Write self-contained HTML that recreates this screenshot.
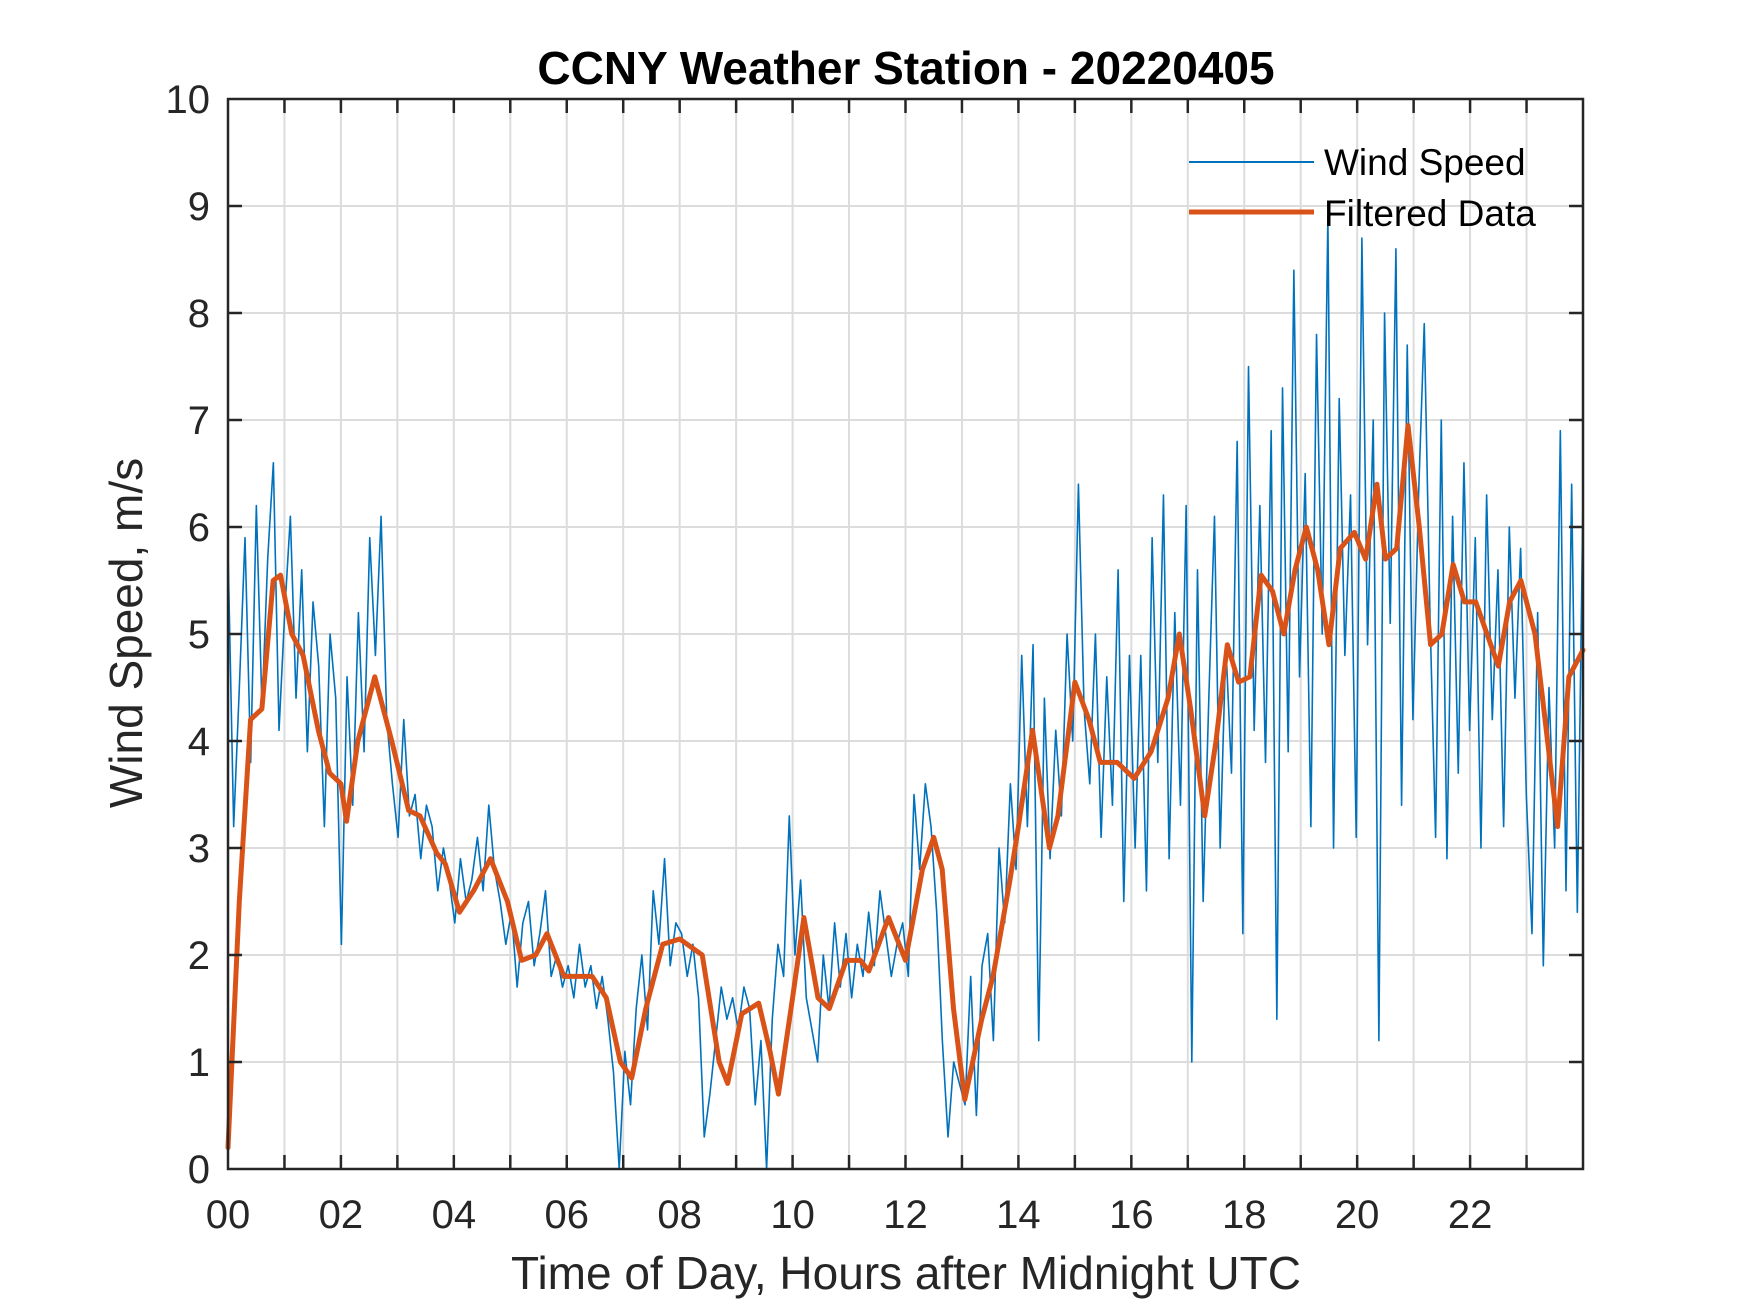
<!DOCTYPE html>
<html><head><meta charset="utf-8"><style>
body{margin:0;background:#fff}
svg{display:block;font-family:"Liberation Sans",Arial,sans-serif}
</style></head><body>
<svg id="chart" width="1750" height="1313" viewBox="0 0 1750 1313" xmlns="http://www.w3.org/2000/svg">
<rect width="1750" height="1313" fill="#fff"/>
<g id="grid"></g>
<g id="series"></g>
<g id="axes"></g>
<text x="906" y="84" text-anchor="middle" font-size="46" font-weight="bold" fill="#000">CCNY Weather Station - 20220405</text>
<text x="906" y="1289" text-anchor="middle" font-size="46" fill="#262626">Time of Day, Hours after Midnight UTC</text>
<text transform="translate(142,633) rotate(-90)" text-anchor="middle" font-size="46" fill="#262626">Wind Speed, m/s</text>
<g>
<line x1="1189" y1="162" x2="1314" y2="162" stroke="#0072BD" stroke-width="2"/>
<text x="1324" y="175" font-size="37" fill="#000">Wind Speed</text>
<line x1="1189" y1="212" x2="1314" y2="212" stroke="#D95319" stroke-width="5"/>
<text x="1324" y="226" font-size="37" fill="#000">Filtered Data</text>
</g>
</svg>
<script>
const xTickLabels = ["00","02","04","06","08","10","12","14","16","18","20","22"];
const yTickLabels = ["0","1","2","3","4","5","6","7","8","9","10"];
const rawStep = 0.1;
const rawValues = [
5.8,3.2,4.5,5.9,3.8,6.2,4.3,5.7,6.6,4.1,
5.2,6.1,4.4,5.6,3.9,5.3,4.7,3.2,5.0,4.4,
2.1,4.6,3.4,5.2,3.9,5.9,4.8,6.1,4.2,3.6,
3.1,4.2,3.3,3.5,2.9,3.4,3.2,2.6,3.0,2.7,
2.3,2.9,2.5,2.7,3.1,2.6,3.4,2.8,2.5,2.1,
2.4,1.7,2.3,2.5,1.9,2.2,2.6,1.8,2.0,1.7,
1.9,1.6,2.1,1.7,1.9,1.5,1.8,1.4,0.9,0.0,
1.1,0.6,1.5,2.0,1.3,2.6,2.1,2.9,1.9,2.3,
2.2,1.8,2.1,1.6,0.3,0.7,1.2,1.7,1.4,1.6,
1.3,1.7,1.5,0.6,1.2,0.0,1.4,2.1,1.8,3.3,
2.0,2.7,1.6,1.3,1.0,2.0,1.5,2.3,1.7,2.2,
1.6,2.1,1.8,2.4,1.9,2.6,2.2,1.8,2.1,2.3,
1.8,3.5,2.8,3.6,3.2,2.4,1.2,0.3,1.0,0.8,
0.6,1.8,0.5,1.9,2.2,1.2,3.0,2.3,3.6,2.8,
4.8,3.2,4.9,1.2,4.4,2.9,4.1,3.3,5.0,4.0,
6.4,4.3,3.6,5.0,3.1,4.6,3.4,5.6,2.5,4.8,
3.0,4.8,2.6,5.9,3.8,6.3,2.9,5.2,3.4,6.2,
1.0,5.6,2.5,4.4,6.1,3.0,4.9,3.7,6.8,2.2,
7.5,4.1,6.2,3.8,6.9,1.4,7.3,3.9,8.4,4.6,
6.5,3.2,7.8,5.0,8.9,3.0,7.2,4.8,6.3,3.1,
8.7,4.9,7.0,1.2,8.0,5.1,8.6,3.4,7.7,4.2,
6.3,7.9,5.2,3.1,7.0,2.9,6.1,3.7,6.6,4.1,
5.9,3.0,6.3,4.2,5.6,3.2,6.0,4.4,5.8,3.5,
2.2,5.2,1.9,4.5,3.0,6.9,2.6,6.4,2.4,6.3
];
const filtHours = [0,0.2,0.4,0.6,0.8,0.93,1.13,1.33,1.6,1.8,2.0,2.1,2.3,2.6,2.9,3.2,3.4,3.7,3.85,4.1,4.35,4.65,4.95,5.2,5.45,5.65,5.95,6.45,6.7,6.95,7.15,7.4,7.7,8.0,8.4,8.7,8.85,9.1,9.4,9.6,9.75,10.0,10.2,10.45,10.65,10.95,11.2,11.35,11.7,12.0,12.3,12.5,12.65,12.85,13.05,13.35,13.55,13.85,14.0,14.25,14.55,14.7,15.0,15.25,15.45,15.75,16.05,16.35,16.65,16.85,17.05,17.3,17.5,17.7,17.9,18.1,18.3,18.5,18.7,18.9,19.1,19.3,19.5,19.7,19.95,20.15,20.35,20.5,20.7,20.9,21.1,21.3,21.5,21.7,21.9,22.1,22.3,22.5,22.7,22.9,23.15,23.35,23.55,23.75,24.0];
const filtValues = [0.2,2.5,4.2,4.3,5.5,5.55,5.0,4.8,4.1,3.7,3.6,3.25,4.0,4.6,4.0,3.35,3.3,2.95,2.85,2.4,2.6,2.9,2.5,1.95,2.0,2.2,1.8,1.8,1.6,1.0,0.85,1.5,2.1,2.15,2.0,1.0,0.8,1.45,1.55,1.1,0.7,1.6,2.35,1.6,1.5,1.95,1.95,1.85,2.35,1.95,2.8,3.1,2.8,1.5,0.65,1.4,1.8,2.7,3.2,4.1,3.0,3.3,4.55,4.2,3.8,3.8,3.65,3.9,4.4,5.0,4.3,3.3,4.0,4.9,4.55,4.6,5.55,5.4,5.0,5.6,6.0,5.6,4.9,5.8,5.95,5.7,6.4,5.7,5.8,6.95,6.0,4.9,5.0,5.65,5.3,5.3,5.0,4.7,5.3,5.5,5.0,4.1,3.2,4.6,4.85];

const L=228,R=1583,T=99,B=1169;
const xScale=h=>L+(h/24)*(R-L);
const yScale=v=>B-(v/10)*(B-T);
const NS="http://www.w3.org/2000/svg";
function mk(tag,attrs,parent){const e=document.createElementNS(NS,tag);for(const k in attrs)e.setAttribute(k,attrs[k]);parent.appendChild(e);return e;}
const grid=document.getElementById('grid'),axes=document.getElementById('axes'),series=document.getElementById('series');
for(let h=1;h<24;h++){
  const x=xScale(h);
  const g=mk('line',{x1:x,y1:T,x2:x,y2:B,stroke:'#dcdcdc','stroke-width':2},grid);
  
  
  const t1=mk('line',{x1:x,y1:B,x2:x,y2:B-14,stroke:'#262626','stroke-width':2.5},axes);
  
  
  const t2=mk('line',{x1:x,y1:T,x2:x,y2:T+14,stroke:'#262626','stroke-width':2.5},axes);
  
  
}
xTickLabels.forEach((lab,i)=>{
  const t=mk('text',{x:xScale(i*2),y:1228,'text-anchor':'middle','font-size':40,fill:'#262626'},axes);
  t.textContent=lab;
  
  
});
yTickLabels.forEach((lab,i)=>{
  const y=yScale(i);
  if(i>0&&i<10){
    const g=mk('line',{x1:L,y1:y,x2:R,y2:y,stroke:'#dcdcdc','stroke-width':2},grid);
    
    
    const t1=mk('line',{x1:L,y1:y,x2:L+14,y2:y,stroke:'#262626','stroke-width':2.5},axes);
    
    
    const t2=mk('line',{x1:R,y1:y,x2:R-14,y2:y,stroke:'#262626','stroke-width':2.5},axes);
    
    
  }
  const t=mk('text',{x:210,y:y+14,'text-anchor':'end','font-size':40,fill:'#262626'},axes);
  t.textContent=lab;
  
  
});
const box=mk('rect',{x:L,y:T,width:R-L,height:B-T,fill:'none',stroke:'#262626','stroke-width':2.5},axes);


const rawPts=rawValues.map((v,i)=>xScale(Math.min(24,i*rawStep*24/23.9))+','+yScale(v)).join(' ');
const raw=mk('polyline',{points:rawPts,fill:'none',stroke:'#0072BD','stroke-width':1.6,'stroke-linejoin':'round'},series);


const fPts=filtHours.map((h,i)=>xScale(h)+','+yScale(filtValues[i])).join(' ');
const filt=mk('polyline',{points:fPts,fill:'none',stroke:'#D95319','stroke-width':5,'stroke-linejoin':'round','stroke-linecap':'round'},series);


</script>
</body></html>
